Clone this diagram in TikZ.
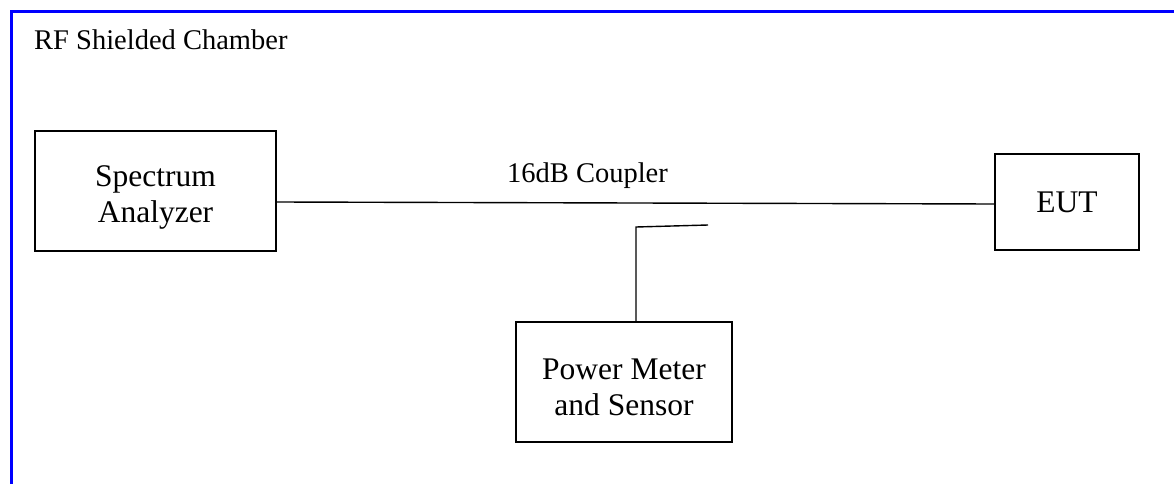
\documentclass[tikz,border=0pt]{standalone}
\usepackage{fontspec}
\setmainfont{Liberation Serif}
\begin{document}
\begin{tikzpicture}[x=1pt,y=-1pt,
  box/.style={draw=black,line width=1.4pt,rectangle,inner sep=0pt},
  boxtext/.style={inner sep=0pt,align=center,font=\fontsize{31.5}{36.5}\selectfont},
  wire/.style={draw=black,line width=1.4pt},
  lbl/.style={inner sep=0pt,font=\fontsize{28.5}{33}\selectfont}]
\useasboundingbox (0,0) rectangle (1174,484);
\begin{scope}
\clip (0,0) rectangle (1174,484);
\draw[blue,line width=3pt] (11.5,520) -- (11.5,11.5) -- (1200,11.5);
\end{scope}
\node[lbl,anchor=base west] (title) at (34,50) {RF Shielded Chamber};
\node[box,minimum width=241pt,minimum height=120pt] (sa) at (155.5,191) {};
\node[boxtext] (satext) at ([yshift=-6.5pt]sa.center) {Spectrum\\Analyzer};
\node[box,minimum width=144pt,minimum height=96pt] (eut) at (1067,202) {};
\node[boxtext] (euttext) at (eut.center) {EUT};
\node[box,minimum width=216pt,minimum height=120pt] (pm) at (624,382) {};
\node[boxtext] (pmtext) at ([yshift=-5.5pt]pm.center) {Power Meter\\and Sensor};
\node[lbl,anchor=base] (coupler) at (587.5,182) {16dB Coupler};
\coordinate (tap) at (708,225);
\draw[wire] (sa.east |- 0,202) -- (eut.west |- 0,204);
\draw[wire] (pm.north -| 636,0) -- (636,227) -- (tap);
\end{tikzpicture}
\end{document}
